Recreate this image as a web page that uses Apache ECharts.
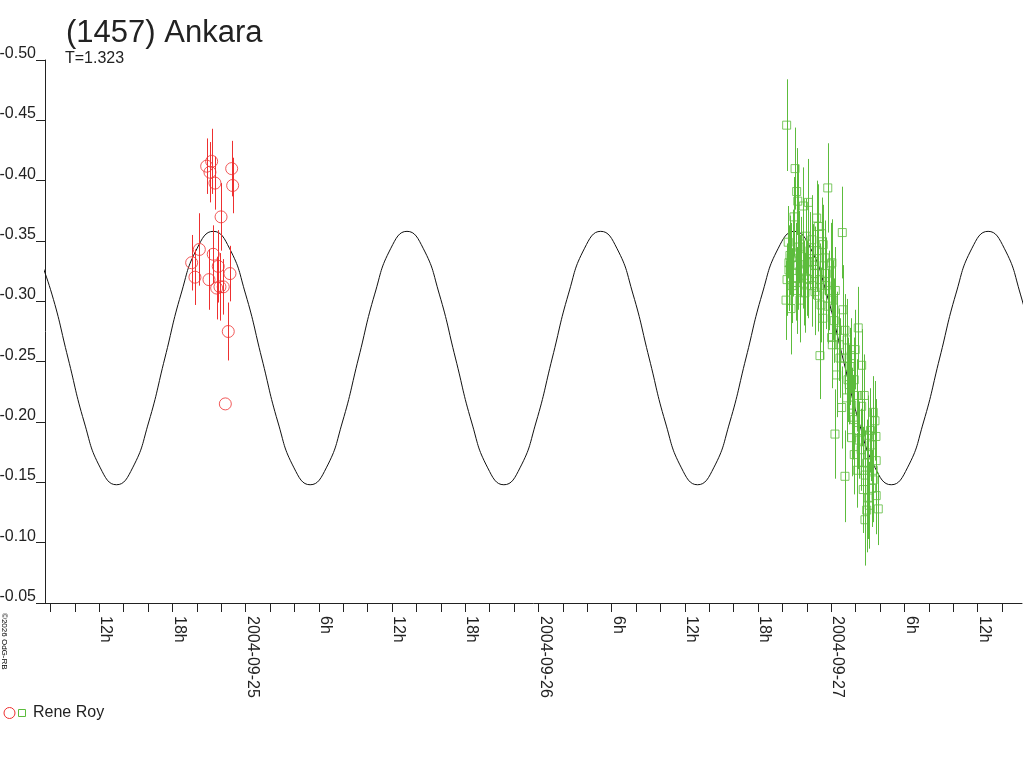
<!DOCTYPE html>
<html>
<head>
<meta charset="utf-8">
<title>(1457) Ankara</title>
<script src="https://cdn.jsdelivr.net/npm/echarts@6/dist/echarts.min.js"></script>
<style>
    html, body { margin: 0; padding: 0; background: #fff; }
    #chart { width: 1024px; height: 768px; }
</style>
</head>
<body>
<div id="chart"></div>
<script>
'use strict';

// hours counted from 2004-09-24 00:00 UT, values are magnitudes
var xMinHour = 7.549;
var xMaxHour = 87.631;

var tickHours = [8, 10, 12, 14, 16, 18, 20, 22, 24, 26, 28, 30, 32, 34, 36, 38, 40, 42, 44, 46, 48,
    50, 52, 54, 56, 58, 60, 62, 64, 66, 68, 70, 72, 74, 76, 78, 80, 82, 84, 86];
var labelHours = [12, 18, 24, 30, 36, 42, 48, 54, 60, 66, 72, 78, 84];
var labelTexts = ['12h', '18h', '2004-09-25', '6h', '12h', '18h', '2004-09-26', '6h', '12h', '18h', '2004-09-27', '6h', '12h'];

// fitted curve
var curveHours = [6.790, 8.113, 9.436, 10.759, 12.083, 13.406, 14.729, 16.052, 17.375, 18.698, 20.021, 21.344,
    22.667, 23.990, 25.314, 26.637, 27.960, 29.283, 30.606, 31.929, 33.252, 34.575, 35.898, 37.221,
    38.545, 39.868, 41.191, 42.514, 43.837, 45.160, 46.483, 47.806, 49.129, 50.452, 51.776, 53.099,
    54.422, 55.745, 57.068, 58.391, 59.714, 61.037, 62.360, 63.683, 65.007, 66.330, 67.653, 68.976,
    70.299, 71.622, 72.945, 74.268, 75.591, 76.914, 78.238, 79.561, 80.884, 82.207, 83.530, 84.853,
    86.176, 87.499, 88.822];
var curveMags = [-0.344, -0.306, -0.253, -0.200, -0.162, -0.148, -0.162, -0.200, -0.253, -0.306, -0.344, -0.358,
    -0.344, -0.306, -0.253, -0.200, -0.162, -0.148, -0.162, -0.200, -0.253, -0.306, -0.344, -0.358,
    -0.344, -0.306, -0.253, -0.200, -0.162, -0.148, -0.162, -0.200, -0.253, -0.306, -0.344, -0.358,
    -0.344, -0.306, -0.253, -0.200, -0.162, -0.148, -0.162, -0.200, -0.253, -0.306, -0.344, -0.358,
    -0.344, -0.306, -0.253, -0.200, -0.162, -0.148, -0.162, -0.200, -0.253, -0.306, -0.344, -0.358,
    -0.344, -0.306, -0.253];

// night 1 (red circles)
var redHours = [20.80, 21.21, 21.07, 21.48, 22.85, 22.93, 21.98, 20.20, 21.34, 19.57,
    19.84, 21.75, 22.71, 20.99, 21.62, 21.89, 22.16, 22.57, 22.33];
var redMags = [-0.412, -0.416, -0.407, -0.398, -0.410, -0.396, -0.370, -0.343, -0.339, -0.332,
    -0.320, -0.329, -0.323, -0.318, -0.311, -0.312, -0.312, -0.275, -0.215];
var redErrs = [0.023, 0.027, 0.025, 0.022, 0.023, 0.023, 0.028, 0.030, 0.024, 0.023,
    0.023, 0.030, 0.023, 0.025, 0.026, 0.028, 0.023, 0.024, 0];

// night 2 (green squares)
var greenHours = [68.34, 69.03, 69.16, 69.25, 69.71, 70.12, 71.71, 72.90, 68.47, 68.94,
    70.80, 70.93, 71.21, 71.34, 68.89, 71.48, 71.99, 68.72, 69.13, 69.68,
    70.64, 71.59, 68.61, 68.53, 69.27, 69.43, 70.09, 70.66, 72.05, 69.98,
    69.76, 69.84, 70.91, 70.66, 68.70, 72.13, 71.72, 72.95, 71.31, 72.02,
    71.07, 72.71, 73.12, 72.44, 73.53, 73.26, 72.85, 73.67, 74.21, 74.49,
    74.49, 73.80, 72.30, 73.67, 73.12, 75.44, 75.58, 75.66, 75.21, 74.62,
    75.30, 75.03, 75.85, 74.76, 74.90, 75.44, 74.90, 75.03, 68.53, 68.78,
    69.19, 69.35, 69.52, 69.11, 70.25, 70.41, 69.93, 70.42, 71.07, 71.57,
    71.81, 71.16, 72.24, 72.49, 72.08, 72.65, 73.30, 73.63, 73.88, 73.47,
    74.13, 73.88, 74.29, 74.45, 74.13, 74.78, 75.03, 75.27, 75.43, 75.68,
    75.11, 68.29, 68.37, 69.43, 70.09, 70.83, 70.50, 72.33, 73.12, 73.96,
    73.37, 74.21, 74.70, 75.68, 74.62, 73.88];
var greenMags = [-0.446, -0.410, -0.391, -0.383, -0.379, -0.382, -0.394, -0.357, -0.349, -0.370,
    -0.369, -0.362, -0.356, -0.347, -0.340, -0.336, -0.331, -0.336, -0.330, -0.326,
    -0.323, -0.323, -0.338, -0.332, -0.330, -0.325, -0.332, -0.330, -0.332, -0.319,
    -0.315, -0.307, -0.305, -0.308, -0.294, -0.301, -0.296, -0.293, -0.286, -0.270,
    -0.255, -0.253, -0.253, -0.239, -0.246, -0.220, -0.212, -0.214, -0.278, -0.247,
    -0.213, -0.204, -0.190, -0.187, -0.155, -0.208, -0.201, -0.188, -0.193, -0.144,
    -0.145, -0.137, -0.128, -0.119, -0.127, -0.160, -0.166, -0.189, -0.326, -0.313,
    -0.309, -0.345, -0.337, -0.319, -0.342, -0.351, -0.354, -0.313, -0.318, -0.313,
    -0.309, -0.297, -0.284, -0.276, -0.264, -0.264, -0.268, -0.255, -0.235, -0.231,
    -0.222, -0.202, -0.185, -0.177, -0.160, -0.156, -0.173, -0.181, -0.152, -0.139,
    -0.131, -0.301, -0.318, -0.301, -0.318, -0.342, -0.333, -0.309, -0.276, -0.260,
    -0.235, -0.193, -0.222, -0.168, -0.160, -0.173];
var greenErrs = [0.038, 0.034, 0.036, 0.030, 0.032, 0.036, 0.037, 0.038, 0.030, 0.033,
    0.031, 0.035, 0.030, 0.033, 0.036, 0.031, 0.034, 0.029, 0.035, 0.032,
    0.036, 0.030, 0.033, 0.031, 0.037, 0.030, 0.034, 0.032, 0.036, 0.031,
    0.035, 0.033, 0.030, 0.036, 0.038, 0.033, 0.031, 0.037, 0.034, 0.032,
    0.036, 0.033, 0.030, 0.035, 0.032, 0.036, 0.034, 0.031, 0.034, 0.030,
    0.033, 0.035, 0.037, 0.032, 0.038, 0.030, 0.033, 0.031, 0.035, 0.036,
    0.032, 0.034, 0.030, 0.038, 0.035, 0.031, 0.036, 0.033, 0.034, 0.031,
    0.036, 0.030, 0.033, 0.035, 0.032, 0.037, 0.031, 0.034, 0.030, 0.036,
    0.033, 0.031, 0.035, 0.032, 0.036, 0.030, 0.034, 0.031, 0.035, 0.033,
    0.030, 0.036, 0.032, 0.034, 0.031, 0.037, 0.033, 0.030, 0.035, 0.032,
    0.036, 0.033, 0.030, 0.035, 0.032, 0.034, 0.031, 0.036, 0.030, 0.033,
    0.035, 0.032, 0.034, 0.031, 0.036, 0.033];

var FONT = '"Liberation Sans", Arial, sans-serif';
var TEXT_COLOR = '#222';
var RED = '#ee3030';
var GREEN = '#5cbc3c';

function pairs(xs, ys) {
    var out = [];
    for (var i = 0; i < xs.length; i++) {
        out.push([xs[i], ys[i]]);
    }
    return out;
}

function errBars(xs, ys, es) {
    var out = [];
    for (var i = 0; i < xs.length; i++) {
        out.push([xs[i], ys[i] - es[i], ys[i] + es[i]]);
    }
    return out;
}

function errRender(color) {
    return function (params, api) {
        var p1 = api.coord([api.value(0), api.value(1)]);
        var p2 = api.coord([api.value(0), api.value(2)]);
        var x = Math.round(p1[0]) + 0.5;
        return {
            type: 'line',
            shape: { x1: x, y1: p1[1], x2: x, y2: p2[1] },
            style: { stroke: color, lineWidth: 1 }
        };
    };
}

var chart = echarts.init(document.getElementById('chart'), null, { renderer: 'canvas' });

chart.setOption({
    animation: false,
    backgroundColor: '#fff',
    textStyle: { fontFamily: FONT },
    grid: { left: 45, right: 2, top: 60, bottom: 165, containLabel: false, outerBoundsMode: 'none' },
    xAxis: {
        type: 'value',
        min: xMinHour,
        max: xMaxHour,
        splitLine: { show: false },
        axisLine: { onZero: false, lineStyle: { color: TEXT_COLOR, width: 1 } },
        axisTick: {
            length: 9,
            customValues: tickHours,
            lineStyle: { color: TEXT_COLOR }
        },
        axisLabel: {
            customValues: labelHours,
            rotate: -90,
            margin: 13,
            fontSize: 16,
            lineHeight: 13,
            color: TEXT_COLOR,
            fontFamily: FONT,
            verticalAlign: 'bottom',
            formatter: function (v) {
                var i = labelHours.indexOf(v);
                return i >= 0 ? labelTexts[i] : '';
            }
        }
    },
    yAxis: {
        type: 'value',
        inverse: true,
        min: -0.5,
        max: -0.05,
        interval: 0.05,
        splitLine: { show: false },
        axisLine: { onZero: false, lineStyle: { color: TEXT_COLOR, width: 1 } },
        axisTick: { length: 9, lineStyle: { color: TEXT_COLOR } },
        axisLabel: {
            margin: 9,
            fontSize: 16,
            lineHeight: 13,
            color: TEXT_COLOR,
            fontFamily: FONT,
            verticalAlign: 'bottom',
            formatter: function (v) { return v.toFixed(2); }
        }
    },
    series: [{
        type: 'line',
        data: pairs(curveHours, curveMags),
        smooth: 0.5,
        showSymbol: false,
        symbol: 'none',
        lineStyle: { color: '#111', width: 1 },
        z: 1
    }, {
        type: 'scatter',
        data: pairs(redHours, redMags),
        symbol: 'circle',
        symbolSize: 12,
        itemStyle: { color: 'rgba(0,0,0,0)', borderColor: RED, borderWidth: 1 },
        z: 2
    }, {
        type: 'custom',
        data: errBars(redHours, redMags, redErrs),
        renderItem: errRender(RED),
        z: 3
    }, {
        type: 'scatter',
        data: pairs(greenHours, greenMags),
        symbol: 'rect',
        symbolSize: 8,
        itemStyle: { color: 'rgba(0,0,0,0)', borderColor: GREEN, borderWidth: 1 },
        z: 2
    }, {
        type: 'custom',
        data: errBars(greenHours, greenMags, greenErrs),
        renderItem: errRender(GREEN),
        z: 3
    }],
    graphic: [{
        type: 'text',
        left: 66,
        top: 18,
        style: { text: '(1457) Ankara', fontSize: 31, fontFamily: FONT, fill: TEXT_COLOR }
    }, {
        type: 'text',
        left: 65,
        top: 51,
        style: { text: 'T=1.323', fontSize: 16, fontFamily: FONT, fill: TEXT_COLOR }
    }, {
        type: 'text',
        x: 0,
        y: 613,
        rotation: -Math.PI / 2,
        style: { text: '\u00a92026 OdG-RB', fontSize: 8, fontFamily: FONT, fill: '#000', verticalAlign: 'bottom' }
    }, {
        type: 'circle',
        shape: { cx: 9.5, cy: 713, r: 5.5 },
        style: { fill: 'none', stroke: RED, lineWidth: 1 }
    }, {
        type: 'rect',
        shape: { x: 18.5, y: 709.5, width: 7, height: 7 },
        style: { fill: 'none', stroke: GREEN, lineWidth: 1 }
    }, {
        type: 'text',
        left: 33,
        top: 705,
        style: { text: 'Rene Roy', fontSize: 16, fontFamily: FONT, fill: TEXT_COLOR }
    }]
});
</script>
</body>
</html>
